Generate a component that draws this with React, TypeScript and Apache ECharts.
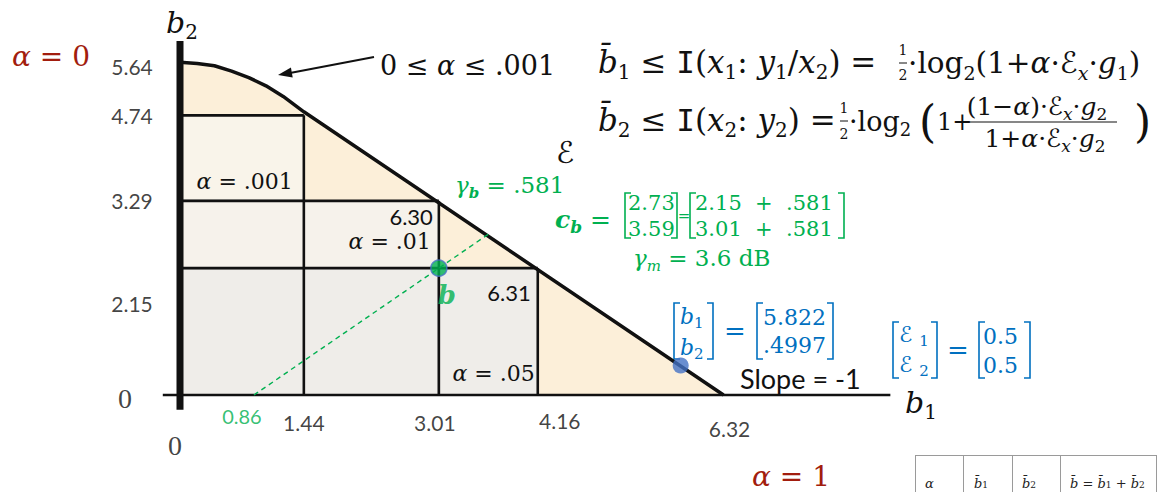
import React, { useEffect, useRef } from 'react';
import * as echarts from 'echarts';

// Rate-region boundary (b1, b2): curved cap, then the slope -1 sum-rate line
const boundaryB1 = [0, 0.2, 0.4, 0.6, 0.8, 1.0, 1.2, 1.44, 6.32];
const boundaryB2 = [5.64, 5.62, 5.58, 5.49, 5.38, 5.24, 5.06, 4.8, 0];

// Rate boxes for the three power splits alpha
const boxAlphas = ['.001', '.01', '.05'];
const boxB1 = [1.44, 3.01, 4.16];
const boxB2 = [4.74, 3.29, 2.15];

// Tick values on both axes
const xTicks = [1.44, 3.01, 4.16, 6.32];
const yTicks = [2.15, 3.29, 4.74, 5.64];

// Equal-gap line through b up to the boundary point c_b = [b2, b1]
const gapStartB1 = 0.86;
const bPoint = [3.01, 2.15];
const cB = [2.73, 3.59];

// Operating point on the sum-rate line
const opPoint = [5.822, 0.4997];

const BLACK = '#111111';
const GREEN = '#00b050';
const BLUE = '#0070c0';
const RED = '#a21d0e';
const GREY = '#8c8c8c';
const SERIF = "'DejaVu Serif', serif";
const TIMES = "'Liberation Serif', serif";
const CALIBRI = "Lato, 'Open Sans', sans-serif";
const NARROW = "'Liberation Sans Narrow', Lato, sans-serif";

function mathRich(size: number, color: string, lhScale = 1.3) {
  const lh = Math.round(size * lhScale);
  const sub = Math.round(size * 0.66);
  return {
    o: { fontFamily: SERIF, fontSize: size, fill: color, lineHeight: lh },
    v: { fontFamily: SERIF, fontStyle: 'italic', fontSize: size, fill: color, lineHeight: lh },
    vb: { fontFamily: SERIF, fontStyle: 'italic', fontWeight: 'bold', fontSize: size, fill: color, lineHeight: lh },
    m: { fontFamily: "'DejaVu Sans Mono', monospace", fontSize: size, fill: color, lineHeight: lh },
    e: { fontFamily: "'DejaVu Sans', sans-serif", fontSize: size, fill: color, lineHeight: lh },
    s: { fontFamily: SERIF, fontSize: sub, fill: color, verticalAlign: 'bottom', lineHeight: Math.round(sub * 1.15) },
    si: { fontFamily: SERIF, fontStyle: 'italic', fontSize: sub, fill: color, verticalAlign: 'bottom', lineHeight: Math.round(sub * 1.15) },
    sb: { fontFamily: SERIF, fontStyle: 'italic', fontWeight: 'bold', fontSize: sub, fill: color, verticalAlign: 'bottom', lineHeight: Math.round(sub * 1.15) },
  };
}

function txt(x: number, y: number, text: string, rich: any, align = 'left') {
  return { type: 'text', x, y, silent: true, style: { text, rich, align, verticalAlign: 'middle' } };
}

function plain(x: number, y: number, text: string, font: string, size: number, color: string, align = 'left') {
  return { type: 'text', x, y, silent: true, style: { text, fontFamily: font, fontSize: size, fill: color, align, verticalAlign: 'middle' } };
}

function bracket(x: number, top: number, bottom: number, side: 'l' | 'r', color: string) {
  const d = side === 'l' ? 6 : -6;
  return {
    type: 'polyline', silent: true,
    shape: { points: [[x + d, top], [x, top], [x, bottom], [x + d, bottom]] },
    style: { stroke: color, lineWidth: 1.6, fill: 'none' },
  };
}

function frac(cx: number, top: number, bottom: number, bar: number, size: number, color: string) {
  return [
    plain(cx, top, '1', SERIF, size, color, 'center'),
    { type: 'line', silent: true, shape: { x1: cx - 4, y1: bar, x2: cx + 4, y2: bar }, style: { stroke: color, lineWidth: 1 } },
    plain(cx, bottom, '2', SERIF, size, color, 'center'),
  ];
}

function buildGraphics() {
  const g: any[] = [];
  // axis titles and alpha extremes
  g.push(txt(166, 22, '{v|b}{s|2}', mathRich(30, BLACK)));
  g.push(txt(905, 402, '{v|b}{s|1}', mathRich(30, BLACK)));
  g.push(txt(12, 56, '{v|α}{o| = 0}', mathRich(28, RED)));
  g.push(txt(752, 476, '{v|α}{o| = 1}', mathRich(28, RED, 1.0)));

  // arrow to the curved cap
  g.push(txt(380, 65, '{o|0 ≤ }{v|α}{o| ≤ .001}', mathRich(27, BLACK)));
  g.push({ type: 'line', silent: true, shape: { x1: 374, y1: 57, x2: 290, y2: 73 }, style: { stroke: BLACK, lineWidth: 2 } });
  g.push({ type: 'polygon', silent: true, shape: { points: [[278, 75], [292.7, 77.4], [290.9, 67.5]] }, style: { fill: BLACK } });

  // mutual-information bounds
  g.push(txt(598, 62, '{v|b̄}{s|1}{o| ≤ }{m|I}{o|(}{v|x}{s|1}{o|: }{v|y}{s|1}{o|/}{v|x}{s|2}{o|) =}', mathRich(31, BLACK)));
  g.push(...frac(903, 50, 75, 63, 14, BLACK));
  g.push(txt(908, 63, '{o|·log}{s|2}{o|(1+}{v|α}{o|·}{e|ℰ}{si|x}{o|·}{v|g}{s|1}{o|)}', mathRich(29.5, BLACK)));

  g.push(txt(598, 120, '{v|b̄}{s|2}{o| ≤ }{m|I}{o|(}{v|x}{s|2}{o|: }{v|y}{s|2}{o|) =}', mathRich(31, BLACK)));
  g.push(...frac(844, 108, 134, 121, 14, BLACK));
  g.push(txt(849, 121, '{o|·log}{s|2}', mathRich(27, BLACK)));
  g.push(plain(919, 121, '(', SERIF, 44, BLACK));
  g.push(txt(937, 122, '{o|1+}', mathRich(24, BLACK)));
  g.push(txt(1037, 106, '{o|(1−}{v|α}{o|)·}{e|ℰ}{si|x}{o|·}{v|g}{s|2}', mathRich(25, BLACK), 'center'));
  g.push({ type: 'line', silent: true, shape: { x1: 961, y1: 122, x2: 1117, y2: 122 }, style: { stroke: BLACK, lineWidth: 1.2 } });
  g.push(txt(1045, 138, '{o|1+}{v|α}{o|·}{e|ℰ}{si|x}{o|·}{v|g}{s|2}', mathRich(25, BLACK), 'center'));
  g.push(plain(1134, 121, ')', SERIF, 44, BLACK));

  g.push(txt(556, 152, '{e|ℰ}', mathRich(30, BLACK)));

  // green annotations for the gap point
  g.push(txt(455, 185, '{v|γ}{sb|b}{o| = .581}', mathRich(23, GREEN)));
  g.push(txt(555, 219, '{vb|c}{sb|b}{o| =}', mathRich(25, GREEN)));
  g.push(bracket(625, 193, 238, 'l', GREEN));
  g.push(plain(628, 203, '2.73', SERIF, 21, GREEN));
  g.push(plain(628, 229, '3.59', SERIF, 21, GREEN));
  g.push(bracket(677, 193, 238, 'r', GREEN));
  g.push(plain(684, 216, '=', SERIF, 15, GREEN, 'center'));
  g.push(bracket(690, 193, 238, 'l', GREEN));
  g.push(plain(695, 203, '2.15  +  .581', SERIF, 21, GREEN));
  g.push(plain(695, 229, '3.01  +  .581', SERIF, 21, GREEN));
  g.push(bracket(844, 193, 238, 'r', GREEN));
  g.push(txt(633, 258, '{v|γ}{si|m}{o| = 3.6 dB}', mathRich(23, GREEN)));

  // blue annotations for the operating point
  g.push(bracket(674, 303, 359, 'l', BLUE));
  g.push(txt(680, 316, '{v|b}{s|1}', mathRich(22, BLUE)));
  g.push(txt(680, 347, '{v|b}{s|2}', mathRich(22, BLUE)));
  g.push(bracket(713, 303, 359, 'r', BLUE));
  g.push(plain(724, 331, '=', SERIF, 26, BLUE));
  g.push(bracket(757, 303, 359, 'l', BLUE));
  g.push(plain(763, 317, '5.822', SERIF, 22, BLUE));
  g.push(plain(763, 345, '.4997', SERIF, 22, BLUE));
  g.push(bracket(833, 303, 359, 'r', BLUE));

  g.push(bracket(893, 322, 378, 'l', BLUE));
  g.push(txt(899, 334, '{e|ℰ}{o| }{s|1}', mathRich(22, BLUE)));
  g.push(txt(899, 364, '{e|ℰ}{o| }{s|2}', mathRich(22, BLUE)));
  g.push(bracket(937, 322, 378, 'r', BLUE));
  g.push(plain(947, 350, '=', SERIF, 26, BLUE));
  g.push(bracket(979, 322, 378, 'l', BLUE));
  g.push(plain(983, 336, '0.5', SERIF, 22, BLUE));
  g.push(plain(983, 365, '0.5', SERIF, 22, BLUE));
  g.push(bracket(1030, 322, 378, 'r', BLUE));

  g.push(plain(740, 378, 'Slope = -1', CALIBRI, 27, BLACK));

  // header of the rate table
  const cols = [915, 963, 1012, 1060, 1156];
  g.push({ type: 'line', silent: true, shape: { x1: 915, y1: 455.5, x2: 1156, y2: 455.5 }, style: { stroke: '#9a9a9a', lineWidth: 1 } });
  cols.forEach((cx) => g.push({ type: 'line', silent: true, shape: { x1: cx + 0.5, y1: 455, x2: cx + 0.5, y2: 492 }, style: { stroke: '#9a9a9a', lineWidth: 1 } }));
  const hdr = mathRich(13, '#222', 1.0);
  g.push(txt(925, 483, '{v|α}', hdr));
  g.push(txt(974, 483, '{v|b̄}{s|1}', hdr));
  g.push(txt(1022, 483, '{v|b̄}{s|2}', hdr));
  g.push(txt(1070, 483, '{v|b̄}{o| = }{v|b̄}{s|1}{o| + }{v|b̄}{s|2}', hdr));
  return g;
}

const boxFills = ['#f9f4ea', '#f6f2eb', '#efede9'];
const boxLabelRich = {
  o: { fontFamily: SERIF, fontSize: 22, fill: BLACK },
  v: { fontFamily: SERIF, fontStyle: 'italic', fontSize: 22, fill: BLACK },
};

function segRender(color: string, width: number) {
  return (params: any, api: any) => {
    const a = api.coord([api.value(0), api.value(1)]);
    const b = api.coord([api.value(2), api.value(3)]);
    return {
      type: 'line',
      shape: { x1: a[0], y1: a[1], x2: b[0], y2: b[1] },
      style: { stroke: color, lineWidth: width },
    };
  };
}

function buildOption() {
  const boundary = boundaryB1.map((v, i) => [v, boundaryB2[i]]);
  const boxes = boxB1.map((v, i) => [v, boxB2[i]]);
  const blackSegs = boxB1.flatMap((b1, i) => [
    [0, boxB2[i], b1, boxB2[i]],
    [b1, 0, b1, boxB2[i]],
  ]);
  const greySegs = [
    [0, boxB2[1], boxB1[0], boxB2[1]],
    [0, boxB2[2], boxB1[0], boxB2[2]],
    [boxB1[1], 0, boxB1[1], boxB2[2]],
  ];

  const xTickShift: Record<string, number[]> = { '1.44': [0, 27], '3.01': [-4, 27], '4.16': [22, 25], '6.32': [6, 33] };
  const yTickShift: Record<string, number[]> = { '2.15': [-48, 35], '3.29': [-48, 0], '4.74': [-48, 0], '5.64': [-48, 4] };

  const tickData = [
    ...xTicks.map((v) => ({
      value: [v, 0],
      label: { formatter: v.toFixed(2), offset: xTickShift[v.toFixed(2)], fontFamily: NARROW, fontSize: 21 },
    })),
    ...yTicks.map((v) => ({
      value: [0, v],
      label: { formatter: v.toFixed(2), offset: yTickShift[v.toFixed(2)], fontFamily: CALIBRI, fontSize: 21 },
    })),
    { value: [gapStartB1, 0], label: { formatter: gapStartB1.toFixed(2), offset: [-12, 21], fontFamily: CALIBRI, fontSize: 20, color: GREEN } },
    { value: [0, 0], label: { formatter: '0', offset: [-55, 3], fontFamily: TIMES, fontSize: 28 } },
    { value: [0, 0], label: { formatter: '0', offset: [-5, 50], fontFamily: TIMES, fontSize: 28 } },
  ];

  return {
    animation: false,
    backgroundColor: '#ffffff',
    grid: { left: 162.8, top: 41, width: 731, height: 377.6, containLabel: false },
    xAxis: { type: 'value', min: -0.2, max: 8.3, show: false },
    yAxis: { type: 'value', min: -0.4, max: 6.0, show: false },
    graphic: buildGraphics(),
    series: [
      {
        type: 'line', z: 1, silent: true, symbol: 'none', data: boundary,
        lineStyle: { width: 0 }, areaStyle: { color: '#fcefd9', opacity: 1 },
      },
      {
        type: 'custom', z: 2, silent: true, data: boxes,
        renderItem: (params: any, api: any) => {
          const p0 = api.coord([0, 0]);
          const p1 = api.coord([api.value(0), api.value(1)]);
          return {
            type: 'rect',
            shape: { x: p0[0], y: p1[1], width: p1[0] - p0[0], height: p0[1] - p1[1] },
            style: { fill: boxFills[params.dataIndex] },
          };
        },
      },
      { type: 'custom', z: 3, silent: true, data: greySegs, renderItem: segRender(GREY, 2.2) },
      { type: 'custom', z: 4, silent: true, data: blackSegs, renderItem: segRender(BLACK, 2.6) },
      {
        type: 'line', z: 5, silent: true, symbol: 'none', data: boundary,
        lineStyle: { color: BLACK, width: 3.5 },
      },
      {
        type: 'line', z: 6, silent: true, symbol: 'none', data: [[0, -0.25], [0, 6.0]],
        lineStyle: { color: BLACK, width: 7, cap: 'butt' },
      },
      {
        type: 'line', z: 6, silent: true, symbol: 'none', data: [[-0.2, 0], [8.26, 0]],
        lineStyle: { color: BLACK, width: 2.6 },
      },
      {
        type: 'line', z: 6, silent: true, symbol: 'none', data: [[gapStartB1, 0], [cB[1], cB[0]]],
        lineStyle: { color: GREEN, width: 1.4, type: [5, 4] },
      },
      {
        type: 'custom', z: 8, silent: true, data: boxes,
        renderItem: (params: any, api: any) => {
          const i = params.dataIndex;
          const corner = api.coord([api.value(0), api.value(1)]);
          const base = api.coord([api.value(0), 0]);
          const alphaText = `{v|α}{o| = ${boxAlphas[i]}}`;
          const sum = (boxB1[i] + boxB2[i]).toFixed(2);
          const el = (x: number, y: number, text: string) => ({
            type: 'text', x, y,
            style: { text, rich: boxLabelRich, align: 'right', verticalAlign: 'middle' },
          });
          const sumEl = (x: number, y: number) => ({
            type: 'text', x, y,
            style: { text: sum, fontFamily: CALIBRI, fontSize: 22, fill: BLACK, align: 'right', verticalAlign: 'middle' },
          });
          const children: any[] = [];
          if (i === 0) {
            const nextTop = api.coord([0, boxB2[1]])[1];
            children.push(el(corner[0] - 11, nextTop - 19, alphaText));
          } else if (i === 1) {
            children.push(sumEl(corner[0] - 6, corner[1] + 16));
            children.push(el(corner[0] - 8, corner[1] + 41, alphaText));
          } else {
            children.push(sumEl(corner[0] - 7, corner[1] + 24));
            children.push(el(base[0] - 3, base[1] - 22, alphaText));
          }
          return { type: 'group', children };
        },
      },
      {
        type: 'scatter', z: 9, silent: true, data: [bPoint], symbolSize: 16,
        itemStyle: { color: GREEN, borderColor: '#4472c4', borderWidth: 1.5 },
        label: {
          show: true, position: 'inside', formatter: 'b', offset: [8, 27],
          fontFamily: SERIF, fontStyle: 'italic', fontWeight: 'bold', fontSize: 26, color: GREEN,
        },
      },
      {
        type: 'scatter', z: 9, silent: true, data: [opPoint], symbolSize: 16,
        itemStyle: { color: '#4472c4' },
      },
      {
        type: 'scatter', z: 9, silent: true, symbolSize: 0, data: tickData,
        label: { show: true, position: 'inside', color: BLACK },
      },
    ],
  };
}

export default function App() {
  const ref = useRef<HTMLDivElement>(null);
  useEffect(() => {
    const chart = echarts.init(ref.current!, undefined, { renderer: 'svg' });
    chart.setOption(buildOption() as any);
    return () => chart.dispose();
  }, []);
  return (
    <div
      ref={ref}
      style={{ position: 'fixed', left: 0, top: 0, width: 1162, height: 492, background: '#ffffff' }}
    />
  );
}
